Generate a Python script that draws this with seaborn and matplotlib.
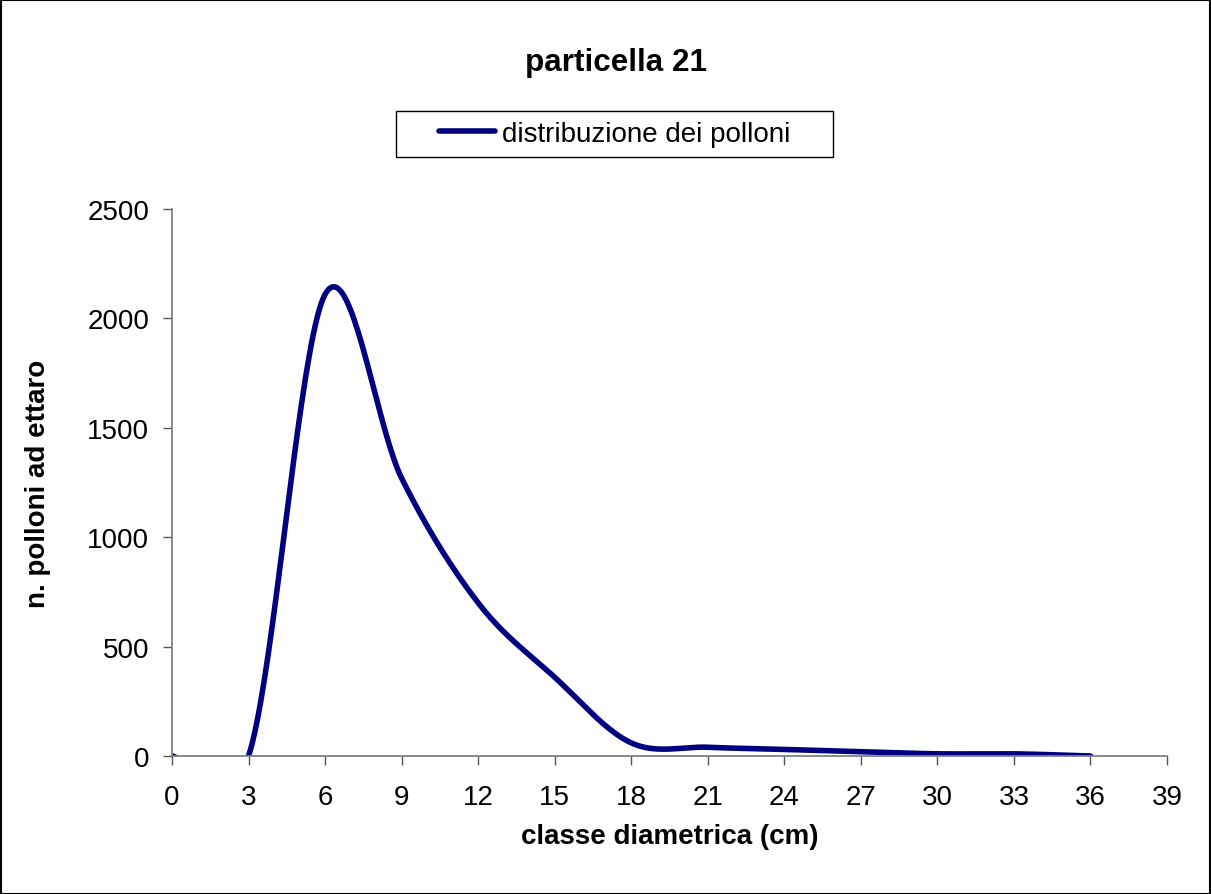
import numpy as np
import pandas as pd
import matplotlib
matplotlib.use('Agg')
import matplotlib.pyplot as plt
from matplotlib.patches import Rectangle
import seaborn as sns

# data
classi = [0, 3, 6, 9, 12, 15, 18, 21, 24, 27, 30, 33, 36]
polloni = [0, 0, 2110, 1270, 700, 360, 60, 40, 30, 20, 10, 10, 0]
x_ticks = list(range(0, 40, 3))
y_ticks = [0, 500, 1000, 1500, 2000, 2500]

titolo = 'particella 21'
serie = 'distribuzione dei polloni'
x_label = 'classe diametrica (cm)'
y_label = 'n. polloni ad ettaro'


def excel_smooth(x, y, n=40):
    # Bezier smoothing like Excel's "smoothed line" (Catmull-Rom tangents)
    x = np.asarray(x, float)
    y = np.asarray(y, float)
    px = np.concatenate([[x[0]], x, [x[-1]]])
    py = np.concatenate([[y[0]], y, [y[-1]]])
    t = np.linspace(0, 1, n)
    xs, ys = [], []
    for i in range(1, len(px) - 2):
        p0 = np.array([px[i], py[i]])
        p3 = np.array([px[i + 1], py[i + 1]])
        c1 = p0 + (np.array([px[i + 1], py[i + 1]]) - np.array([px[i - 1], py[i - 1]])) / 6
        c2 = p3 - (np.array([px[i + 2], py[i + 2]]) - np.array([px[i], py[i]])) / 6
        b = ((1 - t) ** 3)[:, None] * p0 + (3 * (1 - t) ** 2 * t)[:, None] * c1 \
            + (3 * (1 - t) * t ** 2)[:, None] * c2 + (t ** 3)[:, None] * p3
        xs.append(b[:, 0])
        ys.append(b[:, 1])
    return np.concatenate(xs), np.concatenate(ys)


xs, ys = excel_smooth(classi, polloni)
df = pd.DataFrame({'x': xs, 'y': ys, 'serie': serie})

sns.set_theme(style='white')
plt.rcParams['font.family'] = ['Liberation Sans', 'DejaVu Sans']
plt.rcParams['text.color'] = 'black'
plt.rcParams['axes.labelcolor'] = 'black'

W, H = 1211, 895
fig = plt.figure(figsize=(W / 100, H / 100), dpi=100)
ax = fig.add_axes([172 / W, 1 - 757 / H, 995 / W, 547 / H])

sns.lineplot(data=df, x='x', y='y', hue='serie', palette=['#000080'],
             sort=False, estimator=None, lw=4, ax=ax, legend=False)

ax.set_xlim(0, 39)
ax.set_ylim(0, 2500)
ax.set_xticks(x_ticks)
ax.set_yticks(y_ticks)
ax.tick_params(axis='both', bottom=True, left=True, direction='out',
               length=6.5, width=1, color='#555555',
               labelsize=20, labelcolor='black')
ax.tick_params(axis='x', pad=14)
ax.tick_params(axis='y', pad=10)
ax.grid(False)
for s in ['top', 'right']:
    ax.spines[s].set_visible(False)
for s in ['left', 'bottom']:
    ax.spines[s].set_color('#808080')
    ax.spines[s].set_linewidth(1.3)

ax.set_xlabel(x_label, fontsize=20, fontweight='bold', va='center')
ax.set_ylabel(y_label, fontsize=20, fontweight='bold', va='center')
ax.xaxis.set_label_coords(0.5, (757 - 837) / 547)
ax.yaxis.set_label_coords((38 - 172) / 995, 0.5)

fig.text(616 / W, 1 - 63 / H, titolo, fontsize=22.6, fontweight='bold',
         ha='center', va='center')

# legend with an Excel-like box
handle = plt.Line2D([], [], color='#000080', lw=4)
leg = fig.legend([handle], [serie], loc='center',
                 bbox_to_anchor=(614.5 / W, 1 - 135 / H), frameon=False,
                 fontsize=20, handlelength=2.0, handletextpad=0.25,
                 borderpad=0.2)
fig.patches.append(Rectangle((396 / W, 1 - 158 / H), 437 / W, 46 / H,
                             transform=fig.transFigure, fill=False,
                             edgecolor='black', lw=1))

# outer chart border
fig.patches.append(Rectangle((0.5 / W, 0.5 / H), 1 - 1.5 / W, 1 - 1.5 / H,
                             transform=fig.transFigure, fill=False,
                             edgecolor='black', lw=1.5))

fig.savefig('out.png', dpi=100)
